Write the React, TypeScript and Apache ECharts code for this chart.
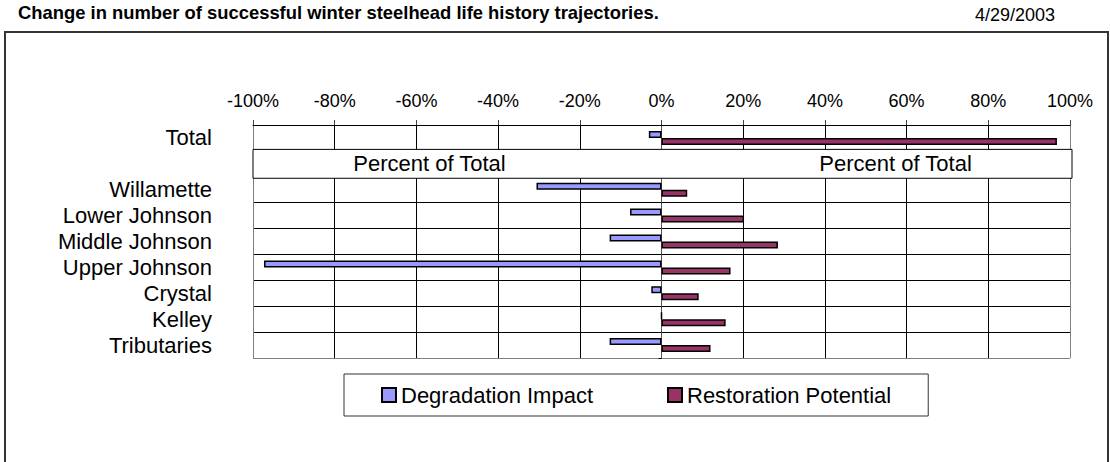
import React, { useEffect, useRef } from "react";
import * as echarts from "echarts";

const categories = ["Total", " ", "Willamette", "Lower Johnson", "Middle Johnson", "Upper Johnson", "Crystal", "Kelley", "Tributaries"];
const degradation = [-3.1, null, -30.6, -7.7, -12.7, -97.3, -2.5, 0, -12.7];
const restoration = [96.8, null, 6.3, 20.2, 28.5, 16.9, 9.1, 15.7, 12.0];
const seriesNames = ["Degradation Impact", "Restoration Potential"];
const xTicks = { min: -100, max: 100, interval: 20 };
const boxCategory = 1;
const boxLabel = "Percent of Total";
const boxLabelCenters = [-56.8, 57.3];
const titleText = "Change in number of successful winter steelhead life history trajectories.";
const dateText = "4/29/2003";

const FONT = "'Liberation Sans', Arial, Helvetica, sans-serif";

export default function App() {
  const ref = useRef<HTMLDivElement>(null);
  useEffect(() => {
    document.body.style.margin = "0";
    const chart = echarts.init(ref.current!, null, { renderer: "svg" });
    const outer = {
      type: "rect",
      id: "outer",
      shape: { x: 5, y: 32, width: 1103, height: 500 },
      style: { fill: "none", stroke: "#333", lineWidth: 2 },
      z: 0,
      silent: true,
    };
    const option: any = {
      animation: false,
      textStyle: { fontFamily: FONT },
      title: [
        { text: titleText, left: 18, top: 3, padding: 0, textStyle: { fontSize: 18.4, fontWeight: "bold", color: "#000", fontFamily: FONT } },
        { text: dateText, left: 975, top: 6, padding: 0, textStyle: { fontSize: 18, fontWeight: "normal", color: "#000", fontFamily: FONT } },
      ],
      grid: { left: 253, top: 125, width: 817, height: 233, containLabel: false },
      xAxis: {
        type: "value",
        position: "top",
        min: xTicks.min,
        max: xTicks.max,
        interval: xTicks.interval,
        axisLine: { show: true, onZero: false, lineStyle: { color: "#000", width: 1 } },
        axisTick: { show: true, inside: false, length: 5, lineStyle: { color: "#444" } },
        axisLabel: { formatter: (v: number) => `${v}%`, fontSize: 18, color: "#000", margin: 15, fontFamily: FONT },
        splitLine: {
          show: true,
          lineStyle: { color: ["#808080", "#000", "#000", "#000", "#000", "#000", "#000", "#000", "#000", "#000", "#808080"], width: 1 },
        },
      },
      yAxis: [
        {
          type: "category",
          data: categories,
          inverse: true,
          position: "left",
          axisLine: { show: false, onZero: false },
          axisTick: { show: false, interval: 0 },
          axisLabel: { interval: 0, fontSize: 22, color: "#000", margin: 41, fontFamily: FONT },
          splitLine: {
            show: true,
            interval: 0,
            lineStyle: { color: ["#000", "#000", "#000", "#000", "#000", "#000", "#000", "#000", "#000", "#808080"], width: 1 },
          },
        },
        {
          type: "category",
          data: categories,
          inverse: true,
          position: "left",
          axisLine: { show: true, onZero: true, onZeroAxisIndex: 0, lineStyle: { color: "#555", width: 1 } },
          axisTick: { show: true, interval: 0, length: 3, lineStyle: { color: "#000" } },
          axisLabel: { show: false, interval: 0 },
          splitLine: { show: false },
        },
      ],
      legend: {
        left: 344,
        top: 374,
        orient: "horizontal",
        padding: [10, 37, 10, 37],
        itemGap: 74,
        itemWidth: 14,
        itemHeight: 14,
        icon: "rect",
        borderColor: "#333",
        borderWidth: 1,
        backgroundColor: "#fff",
        textStyle: { fontSize: 22, color: "#000", fontFamily: FONT },
        data: seriesNames,
      },
      series: [
        {
          name: seriesNames[0],
          type: "bar",
          yAxisIndex: 0,
          data: degradation,
          barWidth: 7,
          barGap: "0%",
          itemStyle: { color: "#9999FF", borderColor: "#000", borderWidth: 1.5 },
        },
        {
          name: seriesNames[1],
          type: "bar",
          yAxisIndex: 0,
          data: restoration,
          barWidth: 7,
          barGap: "0%",
          itemStyle: { color: "#993366", borderColor: "#000", borderWidth: 1.5 },
        },
      ],
      graphic: [outer],
    };
    chart.setOption(option);

    const conv = (x: number, yIdx: number) =>
      chart.convertToPixel({ xAxisIndex: 0, yAxisIndex: 0 }, [x, yIdx]) as number[];
    const [bx0, byc] = conv(xTicks.min, boxCategory);
    const [bx1] = conv(xTicks.max, boxCategory);
    const [, nextC] = conv(xTicks.min, boxCategory + 1);
    const band = nextC - byc;
    const elements: any[] = [
      outer,
      {
        type: "rect",
        id: "box",
        z: 50,
        shape: { x: bx0, y: byc - band / 2 - 1.5, width: bx1 - bx0 + 2, height: band + 3 },
        style: { fill: "#fff", stroke: "#000", lineWidth: 1 },
        silent: true,
      },
    ];
    boxLabelCenters.forEach((v, i) => {
      const [cx] = conv(v, boxCategory);
      elements.push({
        type: "text",
        id: "boxlabel" + i,
        z: 51,
        x: cx,
        y: byc,
        style: { text: boxLabel, fill: "#000", font: `22px ${FONT}`, align: "center", verticalAlign: "middle" },
        silent: true,
      });
    });
    chart.setOption({ graphic: elements });
    return () => chart.dispose();
  }, []);
  return <div ref={ref} style={{ width: 1110, height: 462 }} />;
}
